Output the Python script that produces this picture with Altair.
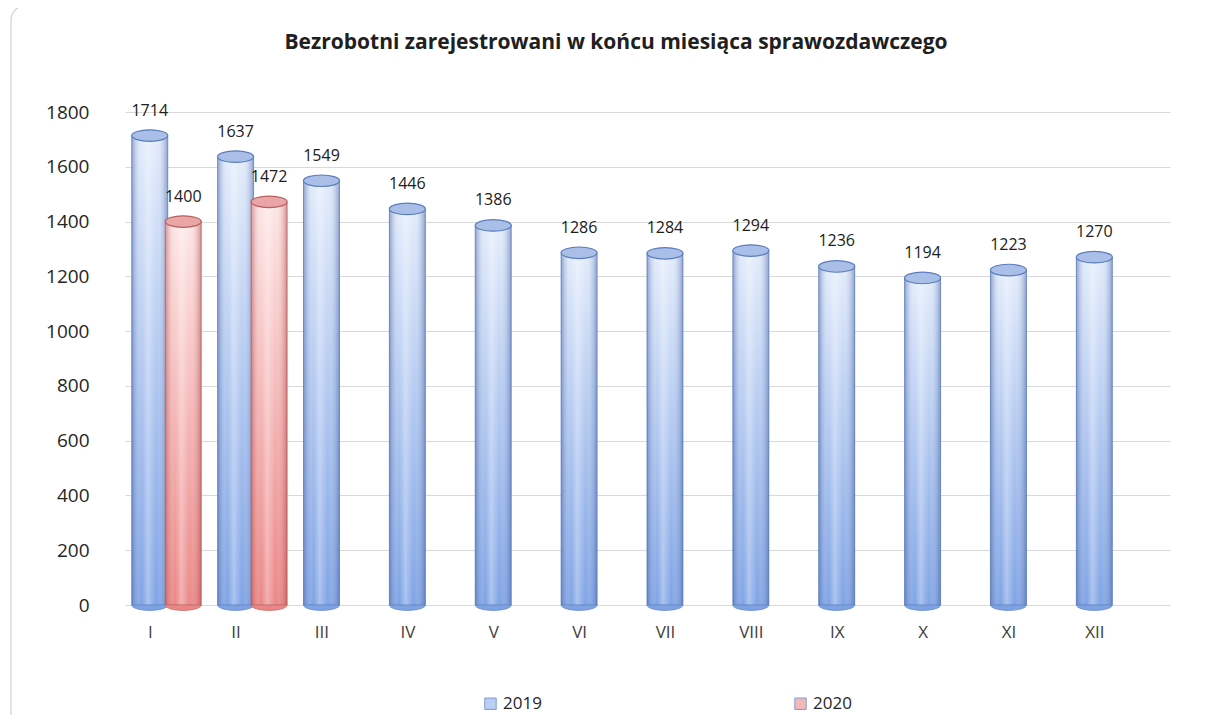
import altair as alt
import pandas as pd

months = ["I", "II", "III", "IV", "V", "VI", "VII", "VIII", "IX", "X", "XI", "XII"]
v2019 = [1714, 1637, 1549, 1446, 1386, 1286, 1284, 1294, 1236, 1194, 1223, 1270]
v2020 = [1400, 1472]
years = ["2019", "2020"]
title_text = "Bezrobotni zarejestrowani w końcu miesiąca sprawozdawczego"

rows = []
for i, m in enumerate(months):
    rows.append({"idx": i, "month": m, "year": "2019", "value": v2019[i]})
    if i < len(v2020):
        rows.append({"idx": i, "month": m, "year": "2020", "value": v2020[i]})
df = pd.DataFrame(rows)

FONT = "Open Sans"
label_expr = "[" + ",".join("'%s'" % m for m in months) + "][datum.value]"

x_enc = alt.X("pos:Q",
              scale=alt.Scale(domain=[-0.23, 11.823], nice=False, zero=False),
              axis=alt.Axis(values=list(range(len(months))), labelExpr=label_expr,
                            title=None, grid=False, domain=False, ticks=False,
                            labelPadding=19, labelFontSize=17, labelFont=FONT,
                            labelColor="#404040"))
y_enc = alt.Y("value:Q",
              scale=alt.Scale(domain=[0, 1800], nice=False),
              axis=alt.Axis(values=list(range(0, 1801, 200)), title=None, format="d",
                            domain=False, ticks=False, labelPadding=36, grid=True,
                            labelFontSize=19, labelFont=FONT, labelColor="#262626",
                            gridColor="#d9d9d9", gridWidth=1.2))

base = alt.Chart(df).transform_calculate(
    pos="datum.idx + (datum.year == '2020' ? 0.39 : 0)"
)

def vgrad(top, bottom):
    return alt.Gradient(gradient="linear", x1=0, x2=0, y1=0, y2=1,
                        stops=[alt.GradientStop(color=top, offset=0),
                               alt.GradientStop(color=bottom, offset=1)])

def hgrad(edge):
    return alt.Gradient(gradient="linear", x1=0, x2=1, y1=0, y2=0,
                        stops=[alt.GradientStop(color=edge, offset=0),
                               alt.GradientStop(color="rgba(255,255,255,0)", offset=0.28),
                               alt.GradientStop(color="rgba(255,255,255,0.35)", offset=0.45),
                               alt.GradientStop(color="rgba(255,255,255,0)", offset=0.68),
                               alt.GradientStop(color=edge, offset=1)])

styles = {
    "2019": dict(top="#e3ecfb", bottom="#7ea3e5", edge="rgba(70,100,170,0.55)",
                 stroke="#6585c4", cap="#a9bfe8", capstroke="#5b7dbd"),
    "2020": dict(top="#fde6e6", bottom="#ec8686", edge="rgba(170,60,60,0.5)",
                 stroke="#c06a6a", cap="#eaa6a6", capstroke="#b75f5f"),
}

ellipse = "M-1,0A1,0.32 0 1,0 1,0A1,0.32 0 1,0 -1,0Z"
half_ellipse = "M-1,0A1,0.3 0 0,0 1,0Z"
BW = 36

layers = []
for yr in years:
    s = styles[yr]
    b = base.transform_filter(alt.datum.year == yr)
    layers.append(b.mark_bar(size=BW, fill=vgrad(s["top"], s["bottom"]),
                             stroke=s["stroke"], strokeWidth=0.8)
                  .encode(x=x_enc, y=y_enc))
    layers.append(b.mark_bar(size=BW, fill=hgrad(s["edge"]), strokeWidth=0)
                  .encode(x="pos:Q", y="value:Q"))
    layers.append(b.mark_point(shape=half_ellipse, size=BW ** 2, filled=True,
                               fill=s["bottom"], stroke=s["stroke"], strokeWidth=0.8,
                               opacity=1)
                  .encode(x="pos:Q", y=alt.datum(0)))
    layers.append(b.mark_point(shape=ellipse, size=BW ** 2, filled=True,
                               fill=s["cap"], stroke=s["capstroke"], strokeWidth=1.2,
                               opacity=1)
                  .encode(x="pos:Q", y="value:Q"))
    layers.append(b.mark_text(dy=-25, font=FONT, fontSize=16, color="#202020")
                  .encode(x="pos:Q", y="value:Q", text="value:Q"))

legend_layer = alt.Chart(pd.DataFrame({"year": years, "value": [0, 0], "pos": [0, 0]})).mark_square(
    size=0, opacity=0
).encode(
    x="pos:Q", y="value:Q",
    color=alt.Color("year:N",
                    scale=alt.Scale(domain=years, range=["#b9cff3", "#f3b9b9"]),
                    legend=alt.Legend(title=None, orient="none", legendX=357, legendY=583,
                                      direction="horizontal", columns=2, columnPadding=250,
                                      symbolType="square", symbolSize=130, symbolOpacity=1,
                                      symbolStrokeColor="#7f9bd0", symbolStrokeWidth=1,
                                      labelFont=FONT, labelFontSize=17, labelColor="#262626",
                                      labelOffset=4, padding=0))
)

aux = pd.DataFrame({"a": [0]})
frame = alt.Chart(aux).mark_rect(
    fill="transparent", stroke="#d0d0d0", strokeWidth=1.2, cornerRadius=14
).encode(x=alt.value(-114), x2=alt.value(1080), y=alt.value(-106), y2=alt.value(640))

title = alt.Chart(pd.DataFrame({"t": [title_text]})).mark_text(
    font=FONT, fontSize=21, fontWeight="bold", color="#202020",
    align="center", baseline="alphabetic"
).encode(x=alt.value(491), y=alt.value(-63), text="t:N")

chart = alt.layer(*layers, frame, title, legend_layer).properties(
    width=1045, height=493,
    background="white",
    autosize=alt.AutoSizeParams(type="none"),
    padding={"left": 117, "top": 104, "right": 25, "bottom": 110},
).configure_view(stroke=None)

chart.save("out.html", embed_options={"renderer": "svg", "actions": False})
